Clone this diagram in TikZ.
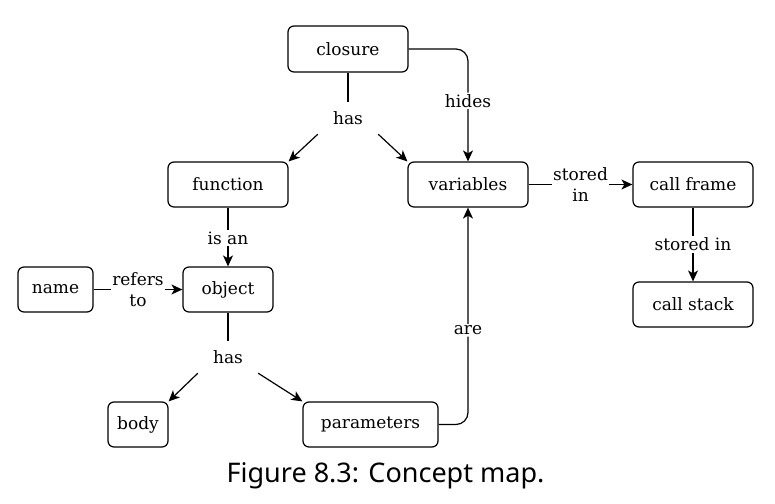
\documentclass[tikz,border=0pt]{standalone}
\usepackage{fontspec}
\setmainfont{DejaVu Serif}
\newfontfamily\capfont{Noto Sans}
\usetikzlibrary{arrows.meta}
\begin{document}
\begin{tikzpicture}[x=1pt,y=-1pt,
  box/.style={draw, line width=1.2pt, rounded corners=6pt, inner sep=0pt, font=\fontsize{17}{20}\selectfont},
  lbl/.style={fill=white, inner sep=1.5pt, font=\fontsize{17}{21}\selectfont, align=center},
  junc/.style={inner sep=0pt, minimum width=60pt, minimum height=32pt, font=\fontsize{17}{20}\selectfont},
  conn/.style={line width=1.2pt},
  arr/.style={line width=1.2pt, -{Stealth[length=11pt,width=10pt,inset=3pt]}}
]
\useasboundingbox (0,0) rectangle (775,503);
% nodes
\node[box, minimum width=120pt, minimum height=46pt] (closure) at (348,49) {closure};
\node[box, minimum width=120pt, minimum height=45pt] (function) at (228,184.5) {function};
\node[box, minimum width=120pt, minimum height=45pt] (variables) at (468,184.5) {variables};
\node[box, minimum width=120pt, minimum height=45pt] (callframe) at (693,184.5) {call frame};
\node[box, minimum width=75pt, minimum height=45pt] (name) at (55.5,289.5) {name};
\node[box, minimum width=90pt, minimum height=45pt] (object) at (228,289.5) {object};
\node[box, minimum width=120pt, minimum height=45pt] (callstack) at (693,304.5) {call stack};
\node[box, minimum width=60pt, minimum height=45pt] (body) at (138,424.5) {body};
\node[box, minimum width=135pt, minimum height=45pt] (parameters) at (370.5,424.5) {parameters};
% junctions
\node[junc] (has1) at (348,118) {has};
\node[junc] (has2) at (228,357) {has};
% connectors
\draw[conn] (closure) -- (has1);
\draw[arr] (has1.south west) -- (function.north east);
\draw[arr] (has1.south east) -- (variables.north west);
\draw[conn] (object) -- (has2);
\draw[arr] (has2.south west) -- (body.north east);
\draw[arr] (has2.south east) -- (parameters.north west);
\draw[arr, rounded corners=12pt] (closure.east) -| node[lbl, pos=0.73] {hides} (variables.north);
\draw[arr, rounded corners=12pt] (parameters.east) -| node[lbl, pos=0.717] {are} (variables.south);
\draw[arr] (function) -- node[lbl, pos=0.52] {is an} (object);
\draw[arr] (name) -- node[lbl, pos=0.5] {refers\\to} (object);
\draw[arr] (variables) -- node[lbl, pos=0.5] {stored\\in} (callframe);
\draw[arr] (callframe) -- node[lbl, pos=0.5] {stored in} (callstack);
% caption
\node[font=\capfont\fontsize{27}{32}\selectfont, anchor=base] (caption) at (385.5,482) {Figure 8.3: Concept map.};
\end{tikzpicture}
\end{document}
